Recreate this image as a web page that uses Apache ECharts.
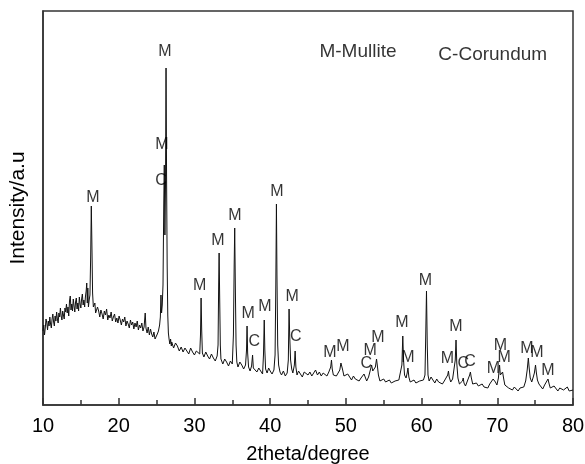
<!DOCTYPE html>
<html>
<head>
<meta charset="utf-8">
<script src="https://cdn.jsdelivr.net/npm/echarts@6/dist/echarts.min.js"></script>
<style>
html,body{margin:0;padding:0;background:#fff;}
#chart{width:585px;height:464px;}
</style>
</head>
<body>
<div id="chart"></div>
<script>
// XRD pattern: [2theta (degree), intensity (a.u.)]
const scanLow = [
[10.0,74],[10.1,80],[10.2,70],[10.3,77],[10.4,86],[10.5,82],[10.6,75],[10.7,84],[10.8,79],[10.9,88],
[11.0,81],[11.1,77],[11.2,86],[11.3,91],[11.4,83],[11.5,79],[11.6,89],[11.7,84],[11.8,93],[11.9,86],
[12.0,82],[12.1,92],[12.2,88],[12.3,97],[12.4,89],[12.5,85],[12.6,94],[12.7,90],[12.8,86],[12.9,97],
[13.0,93],[13.1,101],[13.2,92],[13.3,98],[13.4,89],[13.5,104],[13.6,109],[13.7,95],[13.8,101],[13.9,94],
[14.0,106],[14.1,99],[14.2,93],[14.3,103],[14.4,107],[14.5,96],[14.6,102],[14.7,94],[14.8,108],[14.9,101],
[15.0,97],[15.1,106],[15.2,111],[15.3,100],[15.4,105],[15.5,98],[15.6,108],[15.7,114],[15.78,122],[15.85,102],
[15.92,117],[16.0,98],[16.1,105],[16.2,110],[16.3,150],[16.38,199],[16.46,160],[16.55,112],[16.65,98],[16.75,97],
[16.85,102],[16.95,92],[17.05,91],[17.2,98],[17.35,94],[17.5,88],[17.65,95],[17.8,91],[17.95,86],[18.1,94],
[18.25,90],[18.4,96],[18.55,85],[18.7,90],[18.85,87],[19.0,93],[19.15,84],[19.3,88],[19.45,91],[19.6,83],
[19.75,87],[19.9,82],[20.05,89],[20.2,85],[20.35,80],[20.5,86],[20.65,83],[20.8,88],[20.95,79],[21.1,84],
[21.25,81],[21.4,77],[21.55,85],[21.7,80],[21.85,83],[22.0,76],[22.15,82],[22.3,78],[22.45,84],[22.6,75],
[22.75,80],[22.9,77],[23.05,82],[23.2,74],[23.35,78],[23.5,92],[23.6,77],[23.75,72],[23.9,78],[24.05,70],
[24.2,76],[24.35,71],[24.5,68],[24.65,73],[24.8,66],[24.95,64],[25.1,71],[25.25,74],[25.4,80],[25.5,88],
[25.58,110],[25.66,92],[25.75,100],[25.85,120],[25.95,200],[26.02,240],[26.1,170],[26.18,220],[26.25,337],[26.32,230],
[26.4,140],[26.48,90],[26.56,72],[26.65,66],[26.75,61],[26.85,66],[26.95,59]
];
const scanMid = [
[27.0,63],[27.25,57],[27.5,62],[27.75,59],[28.0,54],[28.25,58],[28.5,53],[28.75,57],[29.0,55],[29.25,51],
[29.5,57],[29.75,53],[30.0,50],[30.25,54],[30.5,52],[30.7,51],[30.8,70],[30.88,107],[30.96,75],[31.05,52],
[31.25,48],[31.5,53],[31.75,49],[32.0,46],[32.25,51],[32.5,47],[32.75,44],[33.0,49],[33.12,60],[33.2,120],
[33.26,152],[33.33,110],[33.42,60],[33.5,46],[33.75,41],[34.0,46],[34.25,43],[34.5,39],[34.75,44],[35.0,41],
[35.15,70],[35.25,140],[35.32,177],[35.4,120],[35.5,60],[35.6,43],[35.75,38],[36.0,43],[36.25,40],[36.5,36],
[36.75,40],[36.88,55],[36.95,79],[37.03,52],[37.15,38],[37.35,34],[37.55,39],[37.68,50],[37.78,37],[38.0,38],
[38.25,33],[38.5,37],[38.75,35],[39.0,31],[39.12,50],[39.22,85],[39.3,55],[39.4,36],[39.6,32],[39.8,37],
[40.0,34],[40.25,31],[40.5,35],[40.65,50],[40.75,120],[40.83,201],[40.9,130],[41.0,60],[41.12,40],[41.3,33],
[41.5,30],[41.75,34],[42.0,29],[42.25,32],[42.4,45],[42.5,96],[42.58,70],[42.7,45],[42.85,36],[43.0,32],
[43.2,40],[43.3,54],[43.4,38],[43.55,30],[43.75,34],[44.0,31],[44.25,28],[44.5,33],[44.75,35],[45.0,30],
[45.25,33],[45.5,29],[45.75,31],[46.0,35],[46.25,30],[46.5,33],[46.75,29],[47.0,32],[47.25,34],[47.5,29],
[47.75,33],[48.0,38],[48.1,45],[48.2,36],[48.35,30],[48.55,32],[48.75,29],[49.0,31],[49.2,35],[49.35,42],
[49.45,44],[49.55,36],[49.75,29],[50.0,27],[50.25,31],[50.5,28],[50.75,25],[51.0,29],[51.25,26],[51.5,28],
[51.75,24],[52.0,27],[52.25,25],[52.4,31],[52.55,28],[52.75,24],[53.0,28],[53.2,30],[53.4,40],[53.55,34],
[53.7,32],[53.9,38],[54.05,46],[54.15,40],[54.3,30],[54.5,24],[54.75,22],[55.0,26],[55.25,23],[55.5,21]
];
const scanHigh = [
[55.75,25],[56.0,22],[56.25,20],[56.5,24],[56.75,22],[57.0,25],[57.25,26],[57.4,40],[57.52,69],[57.62,45],
[57.75,30],[57.95,27],[58.1,32],[58.2,37],[58.32,28],[58.5,23],[58.75,21],[59.0,25],[59.25,22],[59.5,20],
[59.75,24],[60.0,22],[60.25,25],[60.45,30],[60.55,70],[60.65,114],[60.75,60],[60.85,30],[61.0,24],[61.25,28],
[61.5,25],[61.75,22],[62.0,26],[62.25,23],[62.5,25],[62.75,21],[63.0,24],[63.25,22],[63.45,30],[63.55,34],
[63.65,28],[63.85,23],[64.1,26],[64.3,28],[64.45,45],[64.55,65],[64.65,42],[64.8,27],[65.0,21],[65.2,22],
[65.4,24],[65.5,27],[65.6,22],[65.8,19],[66.0,23],[66.2,24],[66.35,30],[66.45,33],[66.55,28],[66.75,21],
[67.0,20],[67.25,22],[67.5,19],[67.75,17],[68.0,21],[68.25,18],[68.5,20],[68.75,17],[69.0,21],[69.25,22],
[69.45,26],[69.6,28],[69.75,23],[69.95,20],[70.15,27],[70.3,40],[70.4,30],[70.55,29],[70.7,33],[70.85,26],
[71.0,20],[71.25,19],[71.5,17],[71.75,18],[72.0,15],[72.25,18],[72.5,16],[72.75,14],[73.0,17],[73.25,19],
[73.5,18],[73.75,24],[73.95,35],[74.1,47],[74.2,38],[74.35,27],[74.55,23],[74.75,28],[74.9,32],[75.05,40],
[75.15,33],[75.3,25],[75.5,21],[75.75,19],[76.0,16],[76.25,20],[76.5,21],[76.7,26],[76.85,21],[77.0,17],
[77.25,16],[77.5,19],[77.75,17],[78.0,14],[78.25,17],[78.5,19],[78.75,15],[79.0,17],[79.25,18],[79.5,14],
[79.75,13],[80.0,15]
];
// peak annotations: [2theta, intensity, phase letter]
const peakLabels = [
[16.6,207,'M'],[26.1,353,'M'],[25.7,260,'M'],[25.6,224,'C'],[30.7,119,'M'],[33.1,164,'M'],
[35.36,189,'M'],[37.1,91,'M'],[37.9,63,'C'],[39.3,98,'M'],[40.9,213,'M'],[42.9,108,'M'],
[43.4,68,'C'],[47.9,52,'M'],[49.6,58,'M'],[52.7,41,'C'],[53.2,54,'M'],[54.25,67,'M'],
[57.4,82,'M'],[58.2,47,'M'],[60.5,124,'M'],[63.4,46,'M'],[64.55,78,'M'],[65.5,41,'C'],
[66.4,43,'C'],[69.5,36,'M'],[70.4,59,'M'],[70.9,47,'M'],[73.9,56,'M'],[75.25,52,'M'],[76.7,34,'M']
];
const phaseKey = [[51.6,353,'M-Mullite'],[69.4,350,'C-Corundum']];
const xTicks = [10,20,30,40,50,60,70,80];

const scan = scanLow.concat(scanMid, scanHigh);
const chart = echarts.init(document.getElementById('chart'), null, {renderer:'canvas'});
const FONT = 'Liberation Sans, Arial, sans-serif';
chart.setOption({
  animation:false,
  backgroundColor:'#fff',
  grid:{left:43,right:12,top:11,bottom:59,show:true,borderColor:'#333',borderWidth:1.5,
        backgroundColor:'transparent',containLabel:false,outerBoundsMode:'none'},
  xAxis:{
    type:'value',min:xTicks[0],max:xTicks[xTicks.length-1],interval:10,
    name:'2theta/degree',nameLocation:'middle',nameGap:39,
    nameTextStyle:{fontFamily:FONT,fontSize:20,color:'#000'},
    axisLine:{show:true,lineStyle:{color:'#333',width:1.5}},
    axisTick:{show:true,inside:true,length:7,lineStyle:{color:'#333',width:1.5}},
    minorTick:{show:true,splitNumber:2,length:5,lineStyle:{color:'#333',width:1.5}},
    axisLabel:{fontFamily:FONT,fontSize:20,color:'#000',margin:11},
    splitLine:{show:false}
  },
  yAxis:{
    type:'value',min:0,max:394,
    name:'Intensity/a.u',nameLocation:'middle',nameGap:14,
    nameTextStyle:{fontFamily:FONT,fontSize:21,color:'#000'},
    axisLine:{show:true,lineStyle:{color:'#333',width:1.5}},
    axisTick:{show:false},axisLabel:{show:false},splitLine:{show:false}
  },
  series:[
    {type:'line',data:scan,showSymbol:false,symbol:'none',
     lineStyle:{color:'#111',width:1},z:2},
    {type:'scatter',data:peakLabels,symbolSize:0,z:3,
     label:{show:true,position:'inside',formatter:p=>p.value[2],
       fontFamily:FONT,fontSize:16,color:'#000'}},
    {type:'scatter',data:phaseKey,symbolSize:0,z:3,
     label:{show:true,position:'inside',formatter:p=>p.value[2],
       fontFamily:FONT,fontSize:19,color:'#000'}}
  ]
});
</script>
</body>
</html>
